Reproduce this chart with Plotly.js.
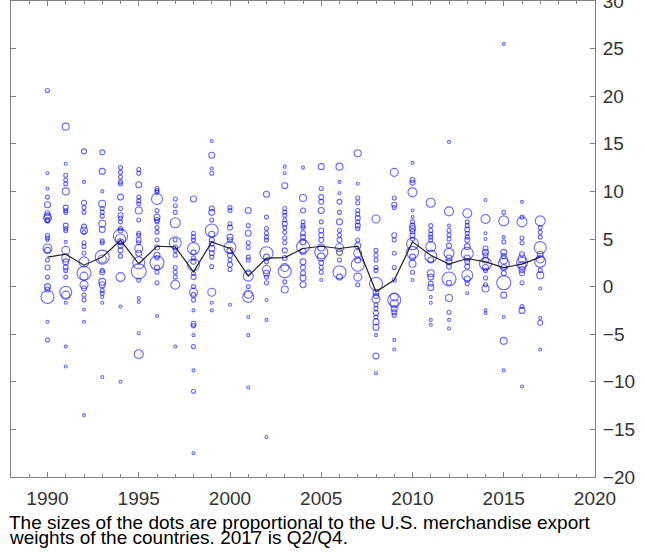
<!DOCTYPE html>
<html>
<head>
<meta charset="utf-8">
<script src="https://cdn.plot.ly/plotly-3.0.1.min.js"></script>
<style>
  html, body { margin: 0; padding: 0; background: #fff; }
  #chart { width: 645px; height: 552px; }
</style>
</head>
<body>
<div id="chart"></div>
<script>
const years = [1990,1991,1992,1993,1994,1995,1996,1997,1998,1999,2000,2001,2002,2003,2004,2005,2006,2007,2008,2009,2010,2011,2012,2013,2014,2015,2016,2017];
const weightedMean = [3.1,3.4,2.25,3.1,4.87,2.4,4.24,4.17,1.55,4.7,4.0,1.1,3.0,3.05,4.0,4.24,4.0,4.24,-0.54,0.68,4.7,3.3,2.36,2.95,2.6,2.0,2.36,3.1];

const g1990 = [20.6,11.9,10.3,9.4,8.6,7.7,7.4,7.2,7.0,6.9,5.4,5.1,4.9,4.0,3.8,2.8,2.0,1.0,0.0,-0.3,-1.1,-3.7,-5.6];
const w1990 = [4,3,3,4,6,5,6,8,5,4,4,4,3,9,6,4,5,4,6,5,13,3,4];
const g1991 = [16.8,12.9,11.7,11.2,10.8,10.0,8.3,8.0,7.8,6.4,6.1,5.9,4.7,3.8,3.0,2.6,2.0,1.7,1.0,-0.6,-0.9,-1.7,-6.3,-8.4];
const w1991 = [7,3,4,4,4,7,5,4,4,5,4,4,3,8,8,6,5,4,4,12,8,3,3,3];
const g1992 = [14.2,11.0,8.8,8.3,7.8,6.3,5.9,5.7,4.6,4.2,3.5,2.6,1.4,1.1,0.2,-0.2,-0.9,-1.4,-2.4,-3.7,-13.5];
const w1992 = [5,3,5,4,4,5,7,4,4,4,4,10,14,8,8,5,4,4,3,3,3];
const g1993 = [14.1,12.1,10.0,8.7,8.2,7.8,7.4,6.6,6.0,4.8,4.6,3.1,2.9,1.7,1.5,0.5,0.2,-0.4,-0.7,-1.1,-1.7,-9.5];
const w1993 = [5,6,3,7,4,4,4,7,6,4,4,14,8,4,5,7,6,4,4,3,3,3];
const g1994 = [12.5,12.0,11.5,11.0,10.8,9.4,8.2,7.5,7.2,6.8,6.1,5.9,5.3,5.0,4.7,4.3,3.8,3.2,1.0,-2.1,-10.0];
const w1994 = [4,4,4,4,4,6,4,5,4,4,4,5,14,10,6,5,5,4,9,3,3];
const g1995 = [12.3,11.9,10.7,9.4,9.0,8.7,8.0,7.0,5.6,5.4,4.9,4.6,4.0,3.5,2.5,1.6,0.7,-1.2,-1.6,-4.9,-7.1];
const w1995 = [4,4,6,4,4,4,7,4,4,4,5,4,8,6,12,15,4,3,3,3,9];
const g1996 = [10.3,10.1,9.9,9.2,8.0,7.3,7.0,6.8,6.2,5.7,4.9,4.1,3.3,3.0,2.5,2.0,1.5,0.4,-3.1];
const w1996 = [4,4,4,11,4,6,5,4,4,4,4,5,6,4,14,5,4,4,3];
const g1997 = [9.2,8.5,7.8,6.7,4.9,4.6,4.1,3.8,3.3,2.0,1.5,1.0,0.2,-6.3];
const w1997 = [4,4,4,10,4,12,5,4,4,4,4,4,9,3];
const g1998 = [9.2,5.6,5.2,4.9,4.0,3.6,3.0,2.6,2.3,1.4,1.0,0.0,-0.6,-0.9,-1.4,-2.5,-3.9,-4.1,-5.1,-6.3,-8.8,-11.0,-17.5];
const w1998 = [6,4,4,4,12,5,4,5,12,4,5,4,8,5,4,3,5,4,3,4,3,4,3];
const g1999 = [15.3,13.8,12.4,11.9,8.2,7.8,7.0,5.9,5.5,4.9,4.5,4.0,3.5,3.1,2.1,-0.6,-1.7,-2.5];
const w1999 = [3,6,3,4,5,6,4,13,6,5,5,6,5,4,4,8,3,3];
const g2000 = [8.3,8.0,6.6,6.2,5.2,4.9,4.1,3.8,3.3,2.8,2.3,1.8,-1.9];
const w2000 = [4,4,4,5,6,5,12,6,5,4,5,4,3];
const g2001 = [8.0,6.4,5.6,4.6,4.1,3.1,2.8,1.5,1.1,0.0,-0.8,-1.1,-3.2,-5.1,-10.6];
const w2001 = [6,4,6,4,4,4,4,5,10,4,8,11,3,3,3];
const g2002 = [9.7,7.3,6.1,5.6,5.2,4.9,3.5,3.1,2.6,1.8,1.4,1.0,0.4,-1.4,-3.5,-15.8];
const w2002 = [6,4,4,4,4,4,13,6,4,8,6,4,4,3,3,3];
const g2003 = [12.6,11.9,10.6,8.2,7.8,7.5,7.0,6.6,6.2,5.7,5.1,4.6,3.8,3.0,2.0,1.6,0.5,-0.3];
const w2003 = [3,3,6,4,4,4,4,5,4,4,4,4,5,5,8,13,4,7];
const g2004 = [12.5,9.3,8.0,6.8,6.4,6.2,5.6,5.2,4.7,4.2,3.7,2.6,2.0,1.4,0.9,0.2];
const w2004 = [3,7,5,4,4,4,5,5,6,13,6,6,5,5,6,6];
const g2005 = [12.6,10.3,9.4,8.9,8.0,6.8,5.9,5.4,4.9,4.1,3.6,3.1,2.5,2.0,1.5,0.7];
const w2005 = [6,4,5,5,6,4,5,5,5,7,13,8,5,4,4,3];
const g2006 = [12.6,11.0,9.8,8.9,7.8,6.8,5.9,5.4,4.9,4.1,3.6,2.8,1.5,1.0];
const w2006 = [7,3,3,5,4,6,4,4,5,8,6,4,13,6];
const g2007 = [14.0,10.8,9.3,8.8,8.0,7.6,7.2,6.8,6.4,6.1,4.9,4.3,3.5,2.8,2.3,1.0,0.2];
const w2007 = [7,3,4,4,4,4,5,4,5,4,4,6,8,6,13,8,4];
const g2008 = [7.1,3.8,3.3,2.8,2.0,1.7,0.3,-0.6,-1.0,-1.3,-1.9,-2.3,-2.8,-3.2,-3.7,-4.3,-5.1,-7.3,-9.1];
const w2008 = [8,4,4,4,4,4,13,6,5,8,4,4,5,4,6,6,3,6,3];
const g2009 = [12.0,9.3,8.6,8.3,5.4,4.9,3.5,2.0,0.7,-1.1,-1.4,-1.8,-2.3,-2.7,-3.0,-5.6,-6.6];
const w2009 = [8,4,5,4,5,4,4,4,4,8,13,8,6,5,4,3,3];
const g2010 = [13.0,11.2,10.9,9.9,8.0,7.3,6.8,6.4,6.1,5.8,5.4,5.0,4.5,3.6,3.1,2.4,1.5,0.7];
const w2010 = [3,5,5,9,3,3,4,5,6,5,5,4,12,12,6,7,4,3];
const g2011 = [8.8,6.4,5.9,5.5,5.2,4.9,4.2,3.2,2.8,1.4,1.0,0.3,-0.1,-1.1,-1.7,-3.5,-4.0];
const w2011 = [9,4,4,4,4,4,10,12,6,7,6,5,6,3,3,3,3];
const g2012 = [15.2,7.9,6.4,5.9,5.4,5.0,4.3,3.5,3.0,2.6,2.1,0.8,0.4,-1.2,-2.7,-3.5,-4.4];
const w2012 = [3,9,3,4,4,4,5,10,6,6,5,14,5,7,4,3,3];
const g2013 = [7.7,6.8,6.4,6.0,5.6,5.2,4.9,4.2,3.5,3.0,2.6,2.1,1.2,0.8,0.3,-0.7];
const w2013 = [9,4,4,5,4,4,5,6,12,6,5,5,11,6,4,3];
const g2014 = [9.1,7.1,5.6,5.0,4.0,3.6,3.3,2.8,2.4,2.0,1.7,0.9,0.2,-0.2,-2.5,-2.8];
const w2014 = [3,9,3,3,5,6,5,6,12,6,4,4,4,7,3,3];
const g2015 = [25.5,7.8,6.9,5.2,4.7,3.6,3.2,2.8,2.4,2.0,1.4,0.4,-0.9,-3.2,-5.7,-8.8];
const w2015 = [3,4,10,3,4,6,5,8,11,6,5,14,6,3,7,3];
const g2016 = [8.9,7.3,6.8,5.1,4.6,3.4,2.9,2.5,2.2,1.8,1.4,0.4,-2.1,-2.5,-10.5];
const w2016 = [3,4,10,4,4,5,8,11,8,6,5,4,4,6,3];
const g2017 = [6.9,6.2,5.7,5.2,4.1,3.4,2.9,2.6,1.7,1.2,-0.2,-3.3,-3.8,-6.6];
const w2017 = [10,4,4,4,12,6,8,11,4,7,3,3,5,3];

const growthByYear = [g1990,g1991,g1992,g1993,g1994,g1995,g1996,g1997,g1998,g1999,g2000,g2001,g2002,g2003,g2004,g2005,g2006,g2007,g2008,g2009,g2010,g2011,g2012,g2013,g2014,g2015,g2016,g2017];
const weightByYear = [w1990,w1991,w1992,w1993,w1994,w1995,w1996,w1997,w1998,w1999,w2000,w2001,w2002,w2003,w2004,w2005,w2006,w2007,w2008,w2009,w2010,w2011,w2012,w2013,w2014,w2015,w2016,w2017];

const captionLine1 = "The sizes of the dots are proportional to the U.S. merchandise export";
const captionLine2 = "weights of the countries. 2017 is Q2/Q4.";

const px = [], py = [], ps = [];
years.forEach((yr, i) => {
  growthByYear[i].forEach((v, j) => {
    px.push(yr); py.push(v); ps.push(weightByYear[i][j]);
  });
});

const traces = [
  {
    type: 'scatter', mode: 'markers', x: px, y: py,
    marker: { symbol: 'circle-open', size: ps, color: 'rgba(0,0,255,0.85)', line: { width: 1.1, color: 'rgba(0,0,255,0.85)' } },
    hoverinfo: 'x+y', showlegend: false, cliponaxis: false
  },
  {
    type: 'scatter', mode: 'lines', x: years, y: weightedMean,
    line: { color: '#222222', width: 1.2 }, showlegend: false
  }
];

const axisFont = { family: 'Liberation Sans, Arial, sans-serif', size: 19, color: '#333333' };
const capFont = { family: 'Liberation Sans, Arial, sans-serif', size: 19, color: '#000000' };

const layout = {
  width: 645, height: 552,
  margin: { l: 11, r: 50, t: 1, b: 75 },
  paper_bgcolor: '#ffffff', plot_bgcolor: '#ffffff',
  showlegend: false,
  xaxis: {
    range: [1988, 2020], tickmode: 'linear', tick0: 1990, dtick: 5,
    ticks: 'inside', ticklen: 5, tickwidth: 1, tickcolor: '#808080',
    minor: { tickmode: 'linear', tick0: 1988, dtick: 1, ticks: 'inside', ticklen: 3, tickcolor: '#808080', showgrid: false },
    showline: true, linecolor: '#808080', linewidth: 1, mirror: 'ticks',
    showgrid: false, zeroline: false, tickfont: axisFont, ticklabelstandoff: 4
  },
  yaxis: {
    range: [-20, 30], tickmode: 'linear', tick0: -20, dtick: 5, side: 'right',
    ticks: 'inside', ticklen: 5, tickwidth: 1, tickcolor: '#808080',
    showline: true, linecolor: '#808080', linewidth: 1, mirror: 'ticks',
    showgrid: false, zeroline: false, tickfont: axisFont, ticklabelstandoff: 3,
    ticklabeloverflow: 'allow'
  },
  annotations: [
    { xref: 'paper', yref: 'paper', x: -0.006, y: (477 - 522) / 476, xanchor: 'left', yanchor: 'middle', showarrow: false,
      text: captionLine1, font: capFont },
    { xref: 'paper', yref: 'paper', x: -0.006, y: (477 - 537) / 476, xanchor: 'left', yanchor: 'middle', showarrow: false,
      text: captionLine2, font: capFont }
  ]
};

Plotly.newPlot('chart', traces, layout, { displayModeBar: false, staticPlot: true });
</script>
</body>
</html>
